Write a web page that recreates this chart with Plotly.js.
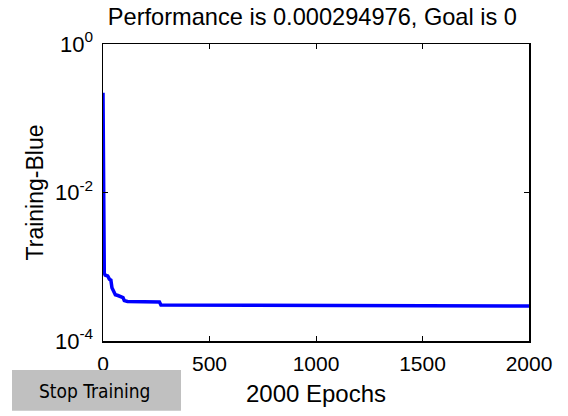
<!DOCTYPE html>
<html>
<head>
<meta charset="utf-8">
<script src="https://cdn.plot.ly/plotly-3.0.1.min.js"></script>
<style>html,body{margin:0;padding:0;background:#fff;}#chart{width:568px;height:416px;}</style>
</head>
<body>
<div id="chart"></div>
<script>
var epochs = [0, 1, 3, 6, 10, 22, 30, 37, 42, 47, 58, 70, 80, 94, 100, 115, 265, 272, 2000];
var performance = [0.221, 0.0125, 0.0016, 0.00082, 0.00077, 0.00075, 0.00068, 0.00066, 0.00052, 0.00048, 0.00042, 0.00041, 0.000395, 0.000385, 0.00035, 0.00034, 0.000335, 0.000305, 0.000295];
var xTicks = [0, 500, 1000, 1500, 2000];
var yTicks = [1e-4, 1e-2, 1];
var yTickText = ['10<sup>-4</sup>', '10<sup>-2</sup>', '10<sup>0</sup>'];
var titleText = 'Performance is 0.000294976, Goal is 0';
var xTitle = '2000 Epochs';
var yTitle = 'Training-Blue';
var buttonText = 'Stop Training';

var L = 103, R = 529, T = 44, B = 341;
function px(x){ return (x - L) / (R - L); }
function py(y){ return (B - y) / (B - T); }

var trace = {
  x: epochs, y: performance, type: 'scatter', mode: 'lines',
  line: {color: '#0000ff', width: 3.5}, hoverinfo: 'none'
};
var layout = {
  width: 568, height: 416,
  margin: {l: L, r: 568 - R, t: T, b: 416 - B, pad: 0},
  paper_bgcolor: '#ffffff', plot_bgcolor: '#ffffff',
  showlegend: false,
  font: {family: 'Liberation Sans, Arial, sans-serif', color: '#000000', size: 21},
  title: {text: titleText, font: {size: 23.6, color: '#000'}, x: 0.55, xanchor: 'center', y: 0.94, yanchor: 'bottom'},
  xaxis: {
    range: [0, 2000], tickvals: xTicks, ticktext: xTicks.map(String),
    ticks: 'inside', ticklen: 5, tickcolor: '#000', tickwidth: 1,
    showline: true, linecolor: '#000', linewidth: 1.5, mirror: 'ticks',
    showgrid: false, zeroline: false,
    tickfont: {size: 21}, ticklabelstandoff: 3,
    title: {text: xTitle, font: {size: 24}, standoff: 11}
  },
  yaxis: {
    type: 'log', range: [-4, 0], tickvals: yTicks, ticktext: yTickText,
    ticks: 'inside', ticklen: 5, tickcolor: '#000', tickwidth: 1,
    showline: true, linecolor: '#000', linewidth: 1.5, mirror: 'ticks',
    showgrid: false, zeroline: false,
    tickfont: {size: 22}, ticklabelstandoff: 4,
    title: {text: yTitle, font: {size: 23}, standoff: 5}
  },
  shapes: [{
    type: 'rect', xref: 'paper', yref: 'paper',
    x0: px(12), x1: px(181), y0: py(410.7), y1: py(370),
    fillcolor: '#c0c0c0', line: {width: 0}, layer: 'above'
  }],
  annotations: [{
    text: buttonText, xref: 'paper', yref: 'paper',
    x: px(94), y: py(391), xanchor: 'center', yanchor: 'middle', showarrow: false,
    font: {family: 'Liberation Sans Narrow, DejaVu Sans Condensed, Arial Narrow, sans-serif', size: 19, color: '#000'}
  }]
};
Plotly.newPlot('chart', [trace], layout, {staticPlot: true, displayModeBar: false});
</script>
</body>
</html>
